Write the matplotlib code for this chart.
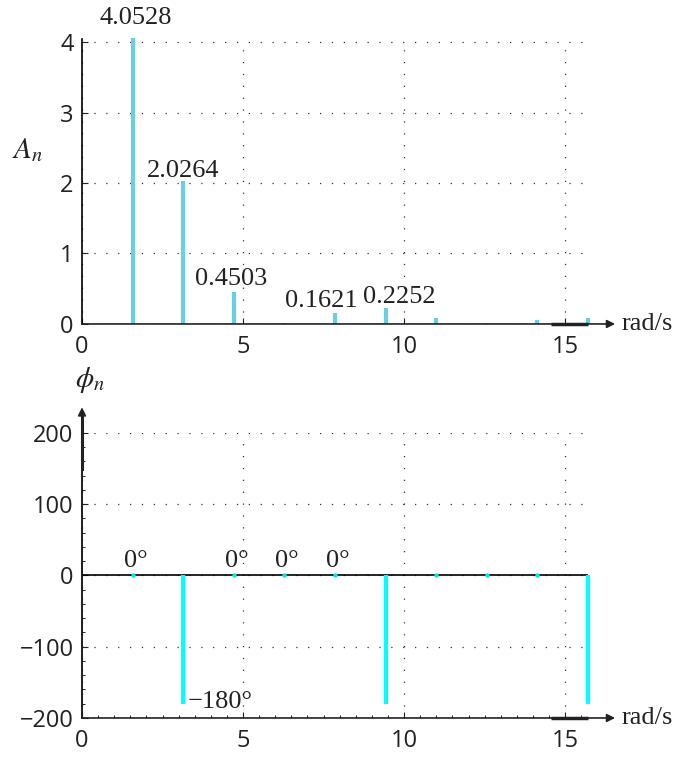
import numpy as np
import matplotlib
matplotlib.use("Agg")
import matplotlib.pyplot as plt
from matplotlib.ticker import MultipleLocator

plt.rcParams['mathtext.fontset'] = 'stix'

# harmonic frequencies (rad/s), amplitudes and phases
w = [1.5708, 3.1416, 4.7124, 6.2832, 7.8540, 9.4248, 10.9956, 12.5664, 14.1372, 15.7080]
A = [4.0528, 2.0264, 0.4503, 0.01, 0.1621, 0.2252, 0.083, 0.01, 0.05, 0.078]
phi = [0, -180, 0, 0, 0, -180, 0, 0, 0, -180]

# value labels: index of the harmonic and its text
amp_idx = [0, 1, 2, 4, 5]
amp_txt = ['4.0528', '2.0264', '0.4503', '0.1621', '0.2252']
ph_idx = [0, 2, 3, 4]
ph_txt = ['0°', '0°', '0°', '0°']
ph_neg_idx = 1
ph_neg_txt = '\u2212180°'

tick_font = 'Open Sans'
serif = 'Liberation Serif'
grid_kw = dict(color='#333333', linestyle=(0, (1, 8.5)), linewidth=0.9)

fig = plt.figure(figsize=(6.81, 7.58), dpi=100)
ax1 = fig.add_axes([0.1204, 0.5726, 0.7430, 0.3766])
ax2 = fig.add_axes([0.1204, 0.0528, 0.7430, 0.3760])

xmax = max(w)

def style(ax):
    for s in ['top', 'right']:
        ax.spines[s].set_visible(False)
    ax.spines['bottom'].set_visible(False)
    ax.spines['left'].set_linewidth(1.2)
    ax.tick_params(direction='in', length=4, width=0.8, labelsize=17, pad=6, colors='#222222')
    ax.tick_params(axis='x', pad=8)
    for lab in ax.get_xticklabels() + ax.get_yticklabels():
        lab.set_fontfamily(tick_font)
    ax.set_xlim(0, xmax)
    ax.set_xticks([0, 5, 10, 15])
    ax.grid(True, **grid_kw)
    ax.set_axisbelow(True)

def x_arrow(ax, y):
    ax.annotate('', xy=(16.55, y), xytext=(0, y), xycoords='data',
                arrowprops=dict(arrowstyle='-|>', color='#222222', lw=1.2,
                                mutation_scale=12, shrinkA=0, shrinkB=0),
                annotation_clip=False)
    ax.plot([14.55, xmax], [y, y], color='#222222', lw=2.5, clip_on=False,
            solid_capstyle='butt', zorder=5)
    ax.text(16.75, y, 'rad/s', fontsize=19, fontfamily=serif, va='center', ha='left',
            color='#222222')

# ---- amplitude spectrum
ax1.vlines(w, 0, A, color='#6acfe0', lw=3.0, zorder=3, clip_on=False)
ax1.set_ylim(0, 4.05)
ax1.set_yticks([0, 1, 2, 3, 4])
style(ax1)
x_arrow(ax1, 0)
ax1.text(-0.107, 0.61, '$A_n$', transform=ax1.transAxes, fontsize=21,
         ha='center', va='center', color='#222222')
amp_off = [(2, 10), (0, 3), (-2, 5), (-10, 4), (10, 4)]
for i, t, off in zip(amp_idx, amp_txt, amp_off):
    ax1.annotate(t, (w[i], A[i]), xytext=off, textcoords='offset points',
                 ha='center', va='baseline', fontsize=19, fontfamily=serif,
                 color='#222222')

# ---- phase spectrum
ax2.set_ylim(-200, 200)
ax2.set_yticks([-200, -100, 0, 100, 200])
ax2.yaxis.set_minor_locator(MultipleLocator(20))
ax2.xaxis.set_minor_locator(MultipleLocator(0.5))
ax2.tick_params(which='minor', direction='in', length=2.5, width=0.6)
style(ax2)
ax2.axhline(0, color='black', lw=1.2, zorder=2)
nz = [k for k in range(len(phi)) if phi[k] != 0]
z = [k for k in range(len(phi)) if phi[k] == 0]
ax2.vlines([w[k] for k in nz], 0, [phi[k] for k in nz], color='#00ffff', lw=3.0,
           zorder=3, clip_on=False)
ax2.plot([w[k] for k in z], [phi[k] for k in z], 'o', color='#00e8e8', ms=3.2,
         mew=0, zorder=4)
x_arrow(ax2, -200)
ax2.annotate('', xy=(0, 236), xytext=(0, -200), xycoords='data',
             arrowprops=dict(arrowstyle='-|>', color='#222222', lw=1.2,
                             mutation_scale=12, shrinkA=0, shrinkB=0),
             annotation_clip=False)
ax2.plot([0, 0], [150, 230], color='#222222', lw=2.2, clip_on=False, zorder=5)
ax2.text(0.016, 1.185, r'$\phi_n$', transform=ax2.transAxes, fontsize=21,
         ha='center', va='center', color='#222222')
for i, t in zip(ph_idx, ph_txt):
    ax2.annotate(t, (w[i], phi[i]), xytext=(2, 6), textcoords='offset points',
                 ha='center', va='baseline', fontsize=19, fontfamily=serif,
                 color='#222222')
ax2.annotate(ph_neg_txt, (w[ph_neg_idx], phi[ph_neg_idx]), xytext=(3, -3),
             textcoords='offset points', ha='left', va='baseline', fontsize=19,
             fontfamily=serif, color='#222222')

fig.savefig('out.png', dpi=100)
